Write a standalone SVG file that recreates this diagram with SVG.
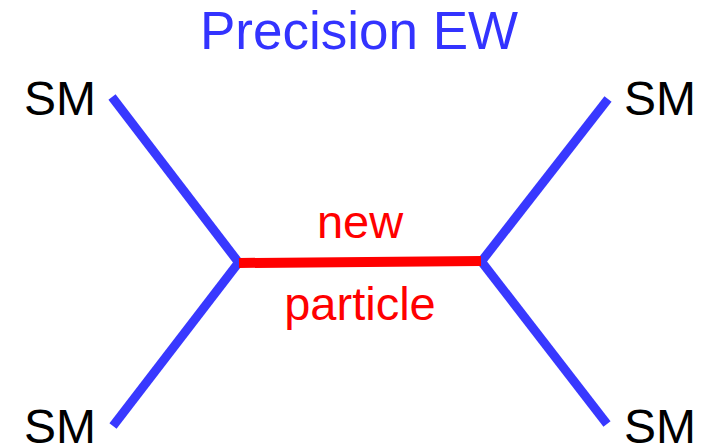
<svg xmlns="http://www.w3.org/2000/svg" width="707" height="446" viewBox="0 0 707 446">
<style>
text{font-family:"Liberation Sans",Arial,sans-serif}
.sm{font-size:48px;fill:#000}
.lbl{font-size:47px;fill:#ff0000;text-anchor:middle}
.t{font-size:53px;fill:#3333ff;text-anchor:middle}
.b{stroke:#3838ff;stroke-width:9;fill:none}
.r{stroke:#ff0000;stroke-width:10;fill:none}
</style>
<rect width="707" height="446" fill="#fff"/>
<g id="title"><text class="t" x="359" y="49">Precision EW</text></g>
<g id="connectors">
<line class="b" x1="112" y1="97" x2="239" y2="263"/>
<line class="b" x1="239" y1="262" x2="113" y2="426"/>
<line class="b" x1="481" y1="262" x2="608" y2="99"/>
<line class="b" x1="481" y1="261" x2="607" y2="424"/>
<line class="r" x1="239" y1="263" x2="481" y2="261"/>
</g>
<g id="sm-tl"><text class="sm" x="24" y="115">SM</text></g>
<g id="sm-tr"><text class="sm" x="624" y="115">SM</text></g>
<g id="sm-bl"><text class="sm" x="24" y="443">SM</text></g>
<g id="sm-br"><text class="sm" x="624" y="443">SM</text></g>
<g id="label"><text class="lbl" x="360" y="238">new</text><text class="lbl" x="360" y="320">particle</text></g>
</svg>
